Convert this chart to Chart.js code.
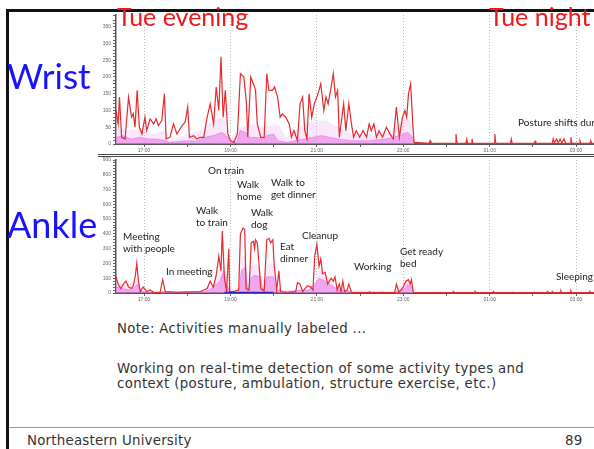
<!DOCTYPE html>
<html>
<head>
<meta charset="utf-8">
<script src="https://cdn.jsdelivr.net/npm/chart.js@4"></script>
<style>
  html, body { margin: 0; padding: 0; width: 594px; height: 449px; overflow: hidden; background: #fff; }
  body { position: relative; font-family: "DejaVu Sans", sans-serif; }
  .abs { position: absolute; white-space: nowrap; }
  canvas { position: absolute; }
  .big { font-family: Lato, sans-serif; color: #1a12ff; font-size: 35px; line-height: 1; }
  .when { font-family: Lato, sans-serif; color: #f01818; font-size: 25px; line-height: 1; }
  .act { font-family: Lato, sans-serif; font-size: 10px; line-height: 11.5px; color: #222; }
  .note { font-family: "DejaVu Sans", sans-serif; font-size: 13.3px; color: #333; line-height: 15px; letter-spacing: 0.35px; }
</style>
</head>
<body>
<canvas id="wristChart" width="506" height="146" style="left:96px; top:10px;"></canvas>
<canvas id="ankleChart" width="506" height="150" style="left:96px; top:155px;"></canvas>

<div class="abs" style="left:7px; top:9px; width:600px; height:3px; background:#111;"></div>
<div class="abs" style="left:6px; top:9px; width:3px; height:450px; background:#111;"></div>
<div class="abs" style="left:98px; top:154px; width:500px; height:1px; border-top:1px solid #444; border-bottom:1px solid #444;"></div>

<div class="abs when" style="left:117px; top:4px;">Tue evening</div>
<div class="abs when" style="left:489px; top:4px;">Tue night</div>
<div class="abs big" style="left:7px; top:58px;">Wrist</div>
<div class="abs big" style="left:7px; top:206px; font-size:36px;">Ankle</div>

<div class="abs act" style="left:518px; top:117px;">Posture shifts during sleep</div>
<div class="abs act" style="left:123px; top:231px;">Meeting<br>with people</div>
<div class="abs act" style="left:166px; top:266px;">In meeting</div>
<div class="abs act" style="left:196px; top:205px;">Walk<br>to train</div>
<div class="abs act" style="left:208px; top:165px;">On train</div>
<div class="abs act" style="left:237px; top:179px;">Walk<br>home</div>
<div class="abs act" style="left:251px; top:207px;">Walk<br>dog</div>
<div class="abs act" style="left:271px; top:177px;">Walk to<br>get dinner</div>
<div class="abs act" style="left:280px; top:241px;">Eat<br>dinner</div>
<div class="abs act" style="left:302px; top:230px;">Cleanup</div>
<div class="abs act" style="left:354px; top:261px;">Working</div>
<div class="abs act" style="left:400px; top:246px;">Get ready<br>bed</div>
<div class="abs act" style="left:556px; top:271px;">Sleeping</div>

<div class="abs note" style="left:117px; top:321px;">Note: Activities manually labeled ...</div>
<div class="abs note" style="left:117px; top:361px;">Working on real-time detection of some activity types and<br>context (posture, ambulation, structure exercise, etc.)</div>

<div class="abs" style="left:9px; top:427px; width:590px; height:1px; background:#999;"></div>
<div class="abs note" style="left:27px; top:433px; font-size:13.4px; letter-spacing:0.2px;">Northeastern University</div>
<div class="abs note" style="left:565px; top:433px; font-size:13.4px;">89</div>

<script>
// time axis (hours, 25 = 01:00 next day)
const xMin = 16.35, xMax = 27.6;
const hourTicks = [17, 18, 19, 20, 21, 22, 23, 24, 25, 26, 27];
const labeledHours = [17, 19, 21, 23, 25, 27];
const hourLabels = ["17:00", "19:00", "21:00", "23:00", "01:00", "03:00"];

// Wrist: [hour, value]
const wristRed = [
    [16.35, 100], [16.40, 60], [16.43, 140], [16.48, 20], [16.56, 15], [16.64, 140], [16.71, 80],
    [16.75, 90], [16.79, 50], [16.84, 160], [16.89, 50], [16.95, 30], [17.02, 80], [17.06, 40],
    [17.14, 75], [17.22, 60], [17.28, 75], [17.33, 55], [17.41, 70], [17.47, 150], [17.51, 15],
    [17.60, 20], [17.68, 60], [17.76, 30], [17.88, 55], [17.95, 65], [18.01, 110], [18.05, 20],
    [18.15, 25], [18.22, 15], [18.30, 20], [18.38, 20], [18.46, 80], [18.53, 120], [18.61, 60],
    [18.67, 170], [18.73, 100], [18.78, 260], [18.83, 80], [18.88, 160], [18.94, 30], [19.00, 10],
    [19.08, 5], [19.16, 30], [19.23, 210], [19.31, 200], [19.37, 120], [19.40, 20], [19.47, 200],
    [19.53, 180], [19.58, 160], [19.62, 60], [19.70, 20], [19.78, 20], [19.84, 210], [19.89, 160],
    [19.97, 160], [20.02, 170], [20.09, 140], [20.15, 80], [20.20, 90], [20.28, 80], [20.36, 60],
    [20.41, 20], [20.47, 40], [20.55, 10], [20.61, 120], [20.67, 140], [20.72, 40], [20.77, 15],
    [20.82, 150], [20.88, 80], [20.94, 120], [21.00, 140], [21.05, 160], [21.09, 180], [21.16, 100],
    [21.21, 140], [21.26, 120], [21.33, 170], [21.38, 210], [21.43, 140], [21.48, 160], [21.52, 20],
    [21.57, 70], [21.62, 120], [21.67, 40], [21.74, 120], [21.80, 60], [21.85, 20], [21.91, 40],
    [21.99, 20], [22.07, 40], [22.15, 20], [22.21, 60], [22.26, 40], [22.32, 60], [22.38, 20],
    [22.44, 40], [22.52, 20], [22.61, 50], [22.69, 30], [22.77, 15], [22.84, 110], [22.91, 20],
    [22.98, 80], [23.04, 100], [23.08, 80], [23.12, 150], [23.17, 180], [23.22, 60], [23.25, 5],
    [23.60, 2], [23.62, 10], [23.64, 2], [24.20, 2], [24.22, 30], [24.24, 2], [24.45, 2], [24.47, 15],
    [24.49, 2], [24.57, 2], [24.59, 15], [24.61, 2], [25.10, 2], [25.12, 30], [25.14, 2],
    [25.48, 2], [25.50, 15], [25.52, 2], [26.03, 2], [26.05, 8], [26.07, 2], [26.45, 2], [26.47, 15],
    [26.50, 3], [26.55, 15], [26.59, 3], [26.63, 15], [26.67, 3], [26.72, 15], [26.76, 2],
    [26.86, 2], [26.88, 20], [26.90, 2], [27.07, 2], [27.09, 10], [27.11, 2], [27.32, 2],
    [27.34, 10], [27.36, 2], [27.6, 2]
];
const wristMagenta = [
    [16.35, 20], [16.5, 25], [16.7, 15], [16.9, 20], [17.1, 15], [17.3, 15], [17.5, 10], [17.6, 5],
    [17.8, 8], [18.0, 10], [18.2, 8], [18.4, 20], [18.6, 25], [18.8, 35], [18.95, 20], [19.0, 5],
    [19.15, 5], [19.22, 40], [19.35, 35], [19.45, 20], [19.6, 20], [19.75, 15], [19.85, 25],
    [20.0, 30], [20.1, 10], [20.3, 5], [20.5, 10], [20.7, 15], [20.9, 20], [21.1, 25], [21.3, 20],
    [21.5, 15], [21.8, 10], [22.2, 10], [22.6, 15], [22.9, 25], [23.1, 35], [23.22, 20], [23.26, 0],
    [27.6, 0]
];
const wristPink = [
    [16.35, 50], [16.6, 40], [16.9, 45], [17.2, 30], [17.5, 40], [17.6, 10], [18.0, 30], [18.3, 40],
    [18.6, 70], [18.85, 80], [19.0, 10], [19.2, 50], [19.5, 60], [19.8, 50], [20.1, 60], [20.3, 20],
    [20.6, 50], [20.9, 70], [21.2, 70], [21.5, 50], [21.8, 30], [22.3, 30], [22.8, 40], [23.0, 80],
    [23.18, 70], [23.25, 0], [27.6, 0]
];

// Ankle: [hour, value]
const ankleRed = [
    [16.35, 110], [16.40, 60], [16.46, 30], [16.52, 60], [16.58, 80], [16.64, 40], [16.71, 30],
    [16.75, 50], [16.80, 120], [16.83, 200], [16.87, 80], [16.91, 10], [16.98, 40], [17.06, 10],
    [17.14, 20], [17.22, 5], [17.37, 3], [17.43, 90], [17.49, 10], [17.76, 5], [17.99, 8],
    [18.30, 10], [18.46, 30], [18.53, 80], [18.60, 40], [18.67, 120], [18.73, 250], [18.78, 150],
    [18.81, 420], [18.86, 100], [18.91, 10], [18.96, 300], [18.98, 10], [19.08, 10], [19.19, 20],
    [19.23, 400], [19.29, 440], [19.33, 430], [19.36, 30], [19.43, 20], [19.48, 340], [19.53, 350],
    [19.56, 300], [19.58, 360], [19.62, 340], [19.66, 200], [19.70, 30], [19.78, 15], [19.84, 360],
    [19.89, 370], [19.93, 340], [19.98, 360], [20.01, 200], [20.07, 20], [20.12, 150], [20.16, 10],
    [20.32, 5], [20.51, 10], [20.55, 70], [20.61, 60], [20.67, 10], [20.78, 50], [20.86, 40],
    [20.91, 20], [20.95, 250], [21.00, 330], [21.05, 180], [21.09, 230], [21.13, 130], [21.19, 140],
    [21.25, 60], [21.33, 100], [21.38, 80], [21.42, 110], [21.47, 20], [21.52, 60], [21.56, 10],
    [21.60, 80], [21.64, 10], [21.70, 20], [21.74, 60], [21.80, 5], [22.20, 2], [22.22, 8],
    [22.24, 2], [22.50, 2], [22.52, 6], [22.54, 2], [22.80, 2], [22.84, 60], [22.90, 5], [23.00, 40],
    [23.06, 80], [23.12, 90], [23.16, 60], [23.19, 90], [23.23, 5], [24.14, 2], [24.16, 10],
    [24.18, 2], [24.64, 2], [24.66, 10], [24.68, 2], [25.07, 2], [25.09, 10], [25.11, 2],
    [25.50, 2], [25.52, 5], [25.54, 2], [26.01, 2], [26.03, 5], [26.05, 2], [26.32, 2], [26.34, 10],
    [26.36, 2], [26.43, 2], [26.45, 10], [26.47, 2], [26.63, 2], [26.65, 15], [26.67, 2],
    [26.86, 2], [26.88, 15], [26.90, 2], [27.30, 2], [27.32, 10], [27.34, 2], [27.6, 2]
];
const ankleMagenta = [
    [16.35, 40], [16.5, 30], [16.7, 20], [16.85, 60], [16.95, 10], [17.2, 5], [17.5, 10], [18.0, 3],
    [18.4, 10], [18.6, 40], [18.75, 80], [18.85, 150], [18.9, 60], [19.0, 5], [19.2, 5], [19.25, 150],
    [19.35, 180], [19.4, 10], [19.47, 100], [19.55, 120], [19.7, 110], [19.75, 10], [19.84, 110],
    [20.0, 110], [20.05, 10], [20.15, 30], [20.2, 2], [20.6, 20], [20.8, 20], [20.95, 60],
    [21.05, 100], [21.2, 80], [21.35, 50], [21.5, 20], [21.7, 15], [21.8, 5], [22.8, 5], [23.05, 30],
    [23.1, 60], [23.2, 40], [23.25, 0], [27.6, 0]
];
const anklePink = [
    [16.35, 80], [16.6, 50], [16.85, 100], [16.95, 10], [18.5, 10], [18.7, 100], [18.85, 200],
    [18.95, 40], [19.2, 20], [19.25, 240], [19.35, 260], [19.4, 20], [19.47, 180], [19.6, 200],
    [19.7, 160], [19.75, 20], [19.84, 200], [20.0, 200], [20.05, 20], [20.9, 20], [21.05, 150],
    [21.25, 120], [21.45, 40], [21.7, 20], [22.8, 10], [23.1, 90], [23.2, 60], [23.25, 0], [27.6, 0]
];
const ankleBlue = [[18.86, 0], [20.0, 0]];

function toPoints(pairs) {
    return pairs.map(p => ({ x: p[0], y: p[1] }));
}

function makeChart(id, red, magenta, pink, extra, yMax, yStep, yLabelEvery, topPad) {
    const datasets = [
        { data: toPoints(red), borderColor: "#e62a2e", borderWidth: 1.2, order: 0 },
        { data: toPoints(magenta), borderColor: "rgba(220,70,220,0.6)", borderWidth: 0.6,
          backgroundColor: "rgba(228,105,228,0.5)", fill: "origin", order: 1 },
        { data: toPoints(pink), borderColor: "rgba(0,0,0,0)", borderWidth: 0,
          backgroundColor: "rgba(242,185,242,0.35)", fill: "origin", order: 2 }
    ];
    if (extra) {
        datasets.push({ data: toPoints(extra), borderColor: "#2b2bb0", borderWidth: 2.5, order: -1 });
    }
    return new Chart(document.getElementById(id), {
        type: "line",
        data: { datasets: datasets },
        options: {
            responsive: false,
            animation: false,
            layout: { padding: { top: topPad, right: 0, left: 0, bottom: 0 } },
            elements: { point: { radius: 0 }, line: { tension: 0 } },
            plugins: { legend: { display: false }, tooltip: { enabled: false } },
            scales: {
                x: {
                    type: "linear",
                    min: xMin,
                    max: xMax,
                    afterBuildTicks: scale => { scale.ticks = hourTicks.map(v => ({ value: v })); },
                    afterFit: scale => { scale.height = 12; },
                    ticks: {
                        autoSkip: false,
                        maxRotation: 0,
                        padding: 1,
                        font: { size: 5 },
                        color: "#666",
                        callback: v => {
                            const i = labeledHours.indexOf(v);
                            return i >= 0 ? hourLabels[i] : "";
                        }
                    },
                    grid: {
                        color: ctx => (ctx.tick && labeledHours.includes(ctx.tick.value)) ? "#b8b8b8" : "rgba(0,0,0,0)",
                        lineWidth: 1,
                        tickColor: "#666",
                        tickLength: 3
                    },
                    border: { color: "#555", width: 2, dash: [1, 2] }
                },
                y: {
                    min: 0,
                    max: yMax,
                    afterFit: scale => { scale.width = 20; },
                    ticks: {
                        stepSize: yStep,
                        autoSkip: false,
                        padding: 2,
                        font: { size: 5 },
                        color: "#666",
                        callback: v => (v % yLabelEvery === 0 ? v : "")
                    },
                    grid: { drawOnChartArea: false, tickColor: "#666", tickLength: 3 },
                    border: { color: "#555", width: 1.5 }
                }
            }
        }
    });
}

makeChart("wristChart", wristRed, wristMagenta, wristPink, null, 385, 10, 50, 2);
makeChart("ankleChart", ankleRed, ankleMagenta, anklePink, ankleBlue, 900, 20, 100, 2);
</script>
</body>
</html>
